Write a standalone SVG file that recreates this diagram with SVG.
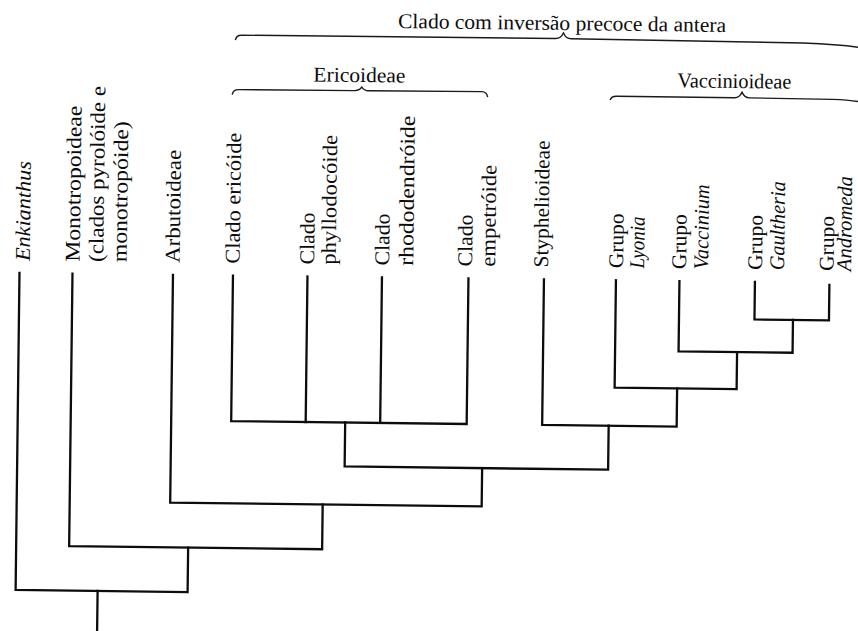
<svg xmlns="http://www.w3.org/2000/svg" width="858" height="631" viewBox="0 0 858 631">
  <defs>
    <style>
      .lbl { font-family: "Liberation Serif", "Times New Roman", serif; font-size: 21px; fill: #0c0c0c; }
      .it { font-style: italic; }
      .tree { fill: none; stroke: #0c0c0c; stroke-width: 2.3; stroke-linejoin: miter; stroke-linecap: square; }
      .brace { fill: none; stroke: #1a1a1a; stroke-width: 1.4; stroke-linejoin: round; }
    </style>
  </defs>
  <rect width="858" height="631" fill="#fff"/>

  <!-- whole figure sits slightly tilted on the page -->
  <g transform="rotate(0.7 429 315)">

    <!-- group braces and titles -->
    <g id="clado-inversao">
      <path class="brace" d="M232,42.5 Q233,37.5 238,37.5 L552,37 Q558,37 560,31 Q562,37 568,37 L800,38.5 Q840,39.5 862,43"/>
      <text class="lbl" x="394.5" y="28.4" textLength="328" lengthAdjust="spacingAndGlyphs">Clado com inversão precoce da antera</text>
    </g>
    <g id="ericoideae">
      <path class="brace" d="M229.5,97 Q230.5,92 236,92 L352,91.5 Q357,91.5 359,87.8 Q361,91.5 366,91.5 L479,91 Q484,91 485,96.5"/>
      <text class="lbl" x="356.5" y="82.9" text-anchor="middle" textLength="92" lengthAdjust="spacingAndGlyphs">Ericoideae</text>
    </g>
    <g id="vaccinioideae">
      <path class="brace" d="M607.5,98 Q608.5,94 614,94 L732,94 Q737,94 739.3,88.2 Q741.5,94 747,94 L830,94.5 Q850,95 862,97.5"/>
      <text class="lbl" x="731.5" y="84.3" text-anchor="middle" textLength="114" lengthAdjust="spacingAndGlyphs">Vaccinioideae</text>
    </g>

    <!-- tip labels, reading bottom to top -->
    <g id="enkianthus">
      <text class="lbl it" transform="translate(29,266) rotate(-90)" textLength="100" lengthAdjust="spacingAndGlyphs">Enkianthus</text>
    </g>
    <g id="monotropoideae">
      <text class="lbl" transform="translate(79,266) rotate(-90)" textLength="156" lengthAdjust="spacingAndGlyphs">Monotropoideae</text>
      <text class="lbl" transform="translate(102.5,266) rotate(-90)" textLength="176" lengthAdjust="spacingAndGlyphs">(clados pyrolóide e</text>
      <text class="lbl" transform="translate(126,266) rotate(-90)" textLength="141" lengthAdjust="spacingAndGlyphs">monotropóide)</text>
    </g>
    <g id="arbutoideae">
      <text class="lbl" transform="translate(179,266) rotate(-90)" textLength="113" lengthAdjust="spacingAndGlyphs">Arbutoideae</text>
    </g>
    <g id="clado-ericoide">
      <text class="lbl" transform="translate(239,266) rotate(-90)" textLength="131" lengthAdjust="spacingAndGlyphs">Clado ericóide</text>
    </g>
    <g id="clado-phyllodocoide">
      <text class="lbl" transform="translate(313.5,266) rotate(-90)" textLength="52" lengthAdjust="spacingAndGlyphs">Clado</text>
      <text class="lbl" transform="translate(335,266) rotate(-90)" textLength="130" lengthAdjust="spacingAndGlyphs">phyllodocóide</text>
    </g>
    <g id="clado-rhododendroide">
      <text class="lbl" transform="translate(388.5,266) rotate(-90)" textLength="52" lengthAdjust="spacingAndGlyphs">Clado</text>
      <text class="lbl" transform="translate(412.5,266) rotate(-90)" textLength="150" lengthAdjust="spacingAndGlyphs">rhododendróide</text>
    </g>
    <g id="clado-empetroide">
      <text class="lbl" transform="translate(471.5,266) rotate(-90)" textLength="52" lengthAdjust="spacingAndGlyphs">Clado</text>
      <text class="lbl" transform="translate(494.5,266) rotate(-90)" textLength="102" lengthAdjust="spacingAndGlyphs">empetróide</text>
    </g>
    <g id="styphelioideae">
      <text class="lbl" transform="translate(547.5,266) rotate(-90)" textLength="127" lengthAdjust="spacingAndGlyphs">Styphelioideae</text>
    </g>
    <g id="grupo-lyonia">
      <text class="lbl" transform="translate(622.5,266) rotate(-90)" textLength="55" lengthAdjust="spacingAndGlyphs">Grupo</text>
      <text class="lbl it" transform="translate(643.5,266) rotate(-90)" textLength="52" lengthAdjust="spacingAndGlyphs">Lyonia</text>
    </g>
    <g id="grupo-vaccinium">
      <text class="lbl" transform="translate(685.5,266) rotate(-90)" textLength="55" lengthAdjust="spacingAndGlyphs">Grupo</text>
      <text class="lbl it" transform="translate(707.5,266) rotate(-90)" textLength="85" lengthAdjust="spacingAndGlyphs">Vaccinium</text>
    </g>
    <g id="grupo-gaultheria">
      <text class="lbl" transform="translate(761.5,266) rotate(-90)" textLength="55" lengthAdjust="spacingAndGlyphs">Grupo</text>
      <text class="lbl it" transform="translate(783.5,266) rotate(-90)" textLength="89" lengthAdjust="spacingAndGlyphs">Gaultheria</text>
    </g>
    <g id="grupo-andromeda">
      <text class="lbl" transform="translate(833,266) rotate(-90)" textLength="55" lengthAdjust="spacingAndGlyphs">Grupo</text>
      <text class="lbl it" transform="translate(850.5,266) rotate(-90)" textLength="95" lengthAdjust="spacingAndGlyphs">Andromeda</text>
    </g>

    <!-- branches of the tree -->
    <g id="connectors" class="tree">
      <!-- Vaccinioideae -->
      <path d="M754.5,278 V315.5 H829 V280"/>
      <path d="M679,278 V348.3 H793 V315.5"/>
      <path d="M615.5,278 V385.3 H737.5 V348.3"/>
      <path d="M543.5,278 V423.5 H678 V385.3"/>
      <!-- Ericoideae -->
      <path d="M232.5,278 V423.5 H468 V278"/>
      <path d="M307,278 V423.5"/>
      <path d="M381.5,278 V423.5"/>
      <!-- deeper nodes -->
      <path d="M346.5,423.5 V467.5 H610 V423.5"/>
      <path d="M172.5,278 V505.8 H484 V467.5"/>
      <path d="M72,278 V550.5 H325 V505.8"/>
      <path d="M19,278 V595 H191 V550.5"/>
      <path d="M101,595 V640"/>
    </g>
  </g>
</svg>
